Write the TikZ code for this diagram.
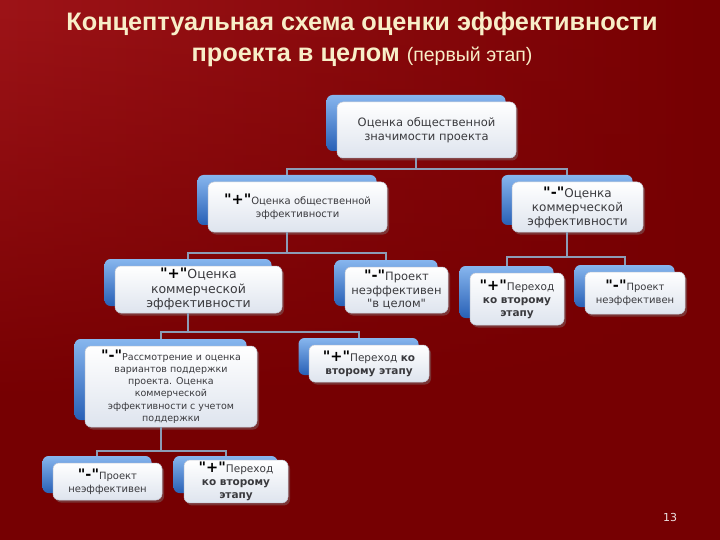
\documentclass[tikz,border=0pt]{standalone}
\usepackage{fontspec}
\setmainfont{DejaVu Sans}
\newfontfamily\boxfont{DejaVu Sans}
\newfontfamily\titlefont{Liberation Sans}
\usetikzlibrary{shadows,calc,fadings}
\definecolor{bgdark}{RGB}{118,0,2}
\definecolor{bglight}{RGB}{158,20,24}
\definecolor{titlecol}{RGB}{248,238,200}
\definecolor{bluetop}{RGB}{135,182,238}
\definecolor{bluebot}{RGB}{40,96,182}
\definecolor{frontbot}{RGB}{222,228,238}
\definecolor{frontedge}{RGB}{196,202,214}
\definecolor{conncol}{RGB}{140,156,182}
\definecolor{textcol}{RGB}{58,58,62}
\tikzset{
  backbox/.style={rounded corners=6pt, top color=bluetop, bottom color=bluebot, draw=none, inner sep=0pt},
  frontbox/.style={rounded corners=6pt, top color=white, bottom color=frontbot, draw=frontedge, line width=0.5pt,
    inner sep=2pt, align=center, text=textcol,
    drop shadow={shadow xshift=2pt, shadow yshift=-2.5pt, opacity=0.4}},
  conn/.style={draw=conncol, line width=2pt},
  titletext/.style={text=titlecol, inner sep=0pt}
}
\newcommand\qp{{\fontsize{14.5}{14}\selectfont\bfseries\textcolor{black}{"+"}}}
\newcommand\qm{{\fontsize{14.5}{14}\selectfont\bfseries\textcolor{black}{"-"}}}
% name, x, y, w, h, size, skip, text
\newcommand\mkbox[8]{%
  \node[backbox, minimum width=#4pt, minimum height=#5pt] (#1B) at (#2-10.5,#3-7) {};
  \node[frontbox, minimum width=#4pt, minimum height=#5pt, font=\boxfont\fontsize{#6}{#7}\selectfont] (#1) at (#2,#3) {#8};
}
\begin{document}
\begin{tikzpicture}[x=1pt,y=-1pt]
\useasboundingbox (0,0) rectangle (720,540);
\fill[bgdark] (0,0) rectangle (720,540);
\shade[left color=bglight, right color=bgdark, path fading=south] (0,0) rectangle (720,400);

% title
\node[titletext, font=\titlefont\bfseries\fontsize{25.3}{28}\selectfont] (t1) at (362,24) {Концептуальная схема оценки эффективности};
\node[titletext, font=\titlefont\bfseries\fontsize{25.3}{28}\selectfont] (t2) at (362,57) {проекта в целом {\mdseries\fontsize{19.5}{22}\selectfont (первый этап)}};

% boxes
\mkbox{root}{426.5}{130}{179}{56}{11.5}{14}{Оценка общественной\\значимости проекта}
\mkbox{sa}{297.5}{207}{179}{50}{10}{13}{\qp Оценка общественной\\эффективности}
\mkbox{sb}{577.5}{207}{131}{50}{12}{14}{\qm Оценка\\коммерческой\\эффективности}
\mkbox{ca}{198.5}{289.5}{167}{47}{12.5}{14.5}{\qp Оценка\\коммерческой\\эффективности}
\mkbox{cb}{396.5}{290}{103}{46}{11.5}{13.5}{\qm Проект\\неэффективен\\"в целом"}
\mkbox{cc}{517}{299}{94}{52}{10.5}{13}{\qp Переход\\\textbf{ко второму}\\\textbf{этапу}}
\mkbox{cd}{635}{293}{100}{42}{10}{13}{\qm Проект\\неэффективен}
\mkbox{da}{171}{386.5}{172}{81}{9.5}{12.2}{\qm Рассмотрение и оценка\\вариантов поддержки\\проекта. Оценка\\коммерческой\\эффективности с учетом\\поддержки}
\mkbox{db}{369}{363.5}{120}{37}{10.5}{13}{\qp Переход \textbf{ко}\\\textbf{второму этапу}}
\mkbox{ea}{107.5}{481.5}{109}{37}{10}{13}{\qm Проект\\неэффективен}
\mkbox{eb}{236}{481.5}{104}{37}{10.5}{13}{\qp Переход\\\textbf{ко второму}\\\textbf{этапу}}

% connectors
\draw[conn] (rootB |- root.south) -- ++(0,11) -| (saB.north);
\draw[conn] (rootB |- root.south) -- ++(0,11) -| (sbB.north);
\draw[conn] (saB |- sa.south) -- ++(0,21) -| (caB.north);
\draw[conn] (saB |- sa.south) -- ++(0,21) -| (cbB.north);
\draw[conn] (sbB |- sb.south) -- ++(0,25) -| (ccB.north);
\draw[conn] (sbB |- sb.south) -- ++(0,25) -| (cdB.north);
\draw[conn] (caB |- ca.south) -- ++(0,19) -| (daB.north);
\draw[conn] (caB |- ca.south) -- ++(0,19) -| (dbB.north);
\draw[conn] (daB |- da.south) -- ++(0,24) -| (eaB.north);
\draw[conn] (daB |- da.south) -- ++(0,24) -| (ebB.north);

% page number
\node[text={rgb,255:red,235;green,225;blue,225}, font=\fontsize{11}{12}\selectfont, inner sep=0pt] (pg) at (670,517) {13};
\end{tikzpicture}
\end{document}
